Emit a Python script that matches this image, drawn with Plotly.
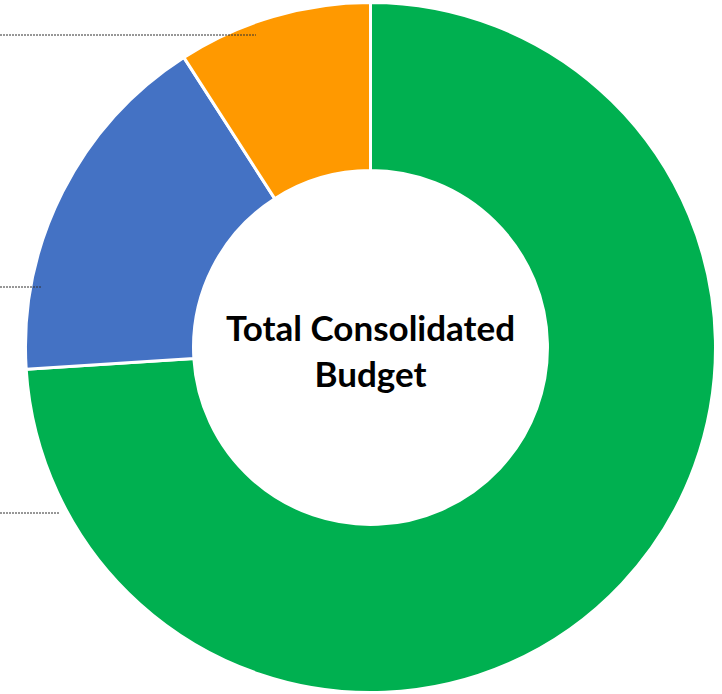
import plotly.graph_objects as go

# Data
categories = ["Green segment", "Blue segment", "Orange segment"]
values = [74.0, 16.9, 9.1]
colors = ["#00B050", "#4472C4", "#FF9900"]
center_title = "Total Consolidated<br>Budget"

# Leader line stubs (label lines cut off on the left edge), in pixels
leader_y = [35, 287, 513]
leader_x_end = [256, 42, 60]

W, H = 722, 694

fig = go.Figure(go.Pie(
    labels=categories,
    values=values,
    hole=0.513,
    sort=False,
    direction="clockwise",
    rotation=0,
    marker=dict(colors=colors, line=dict(color="white", width=3)),
    textinfo="none",
    hoverinfo="label+percent",
    showlegend=False,
    domain=dict(x=[25.5 / W, 715.5 / W], y=[1.5 / H, 691.5 / H]),
))

fig.add_annotation(
    x=370.5 / W, y=1 - 350 / H, xref="paper", yref="paper",
    text="<b>" + center_title + "</b>", showarrow=False,
    font=dict(family="Lato", size=35, color="black"),
    align="center", xanchor="center", yanchor="middle",
)

for yy, xe in zip(leader_y, leader_x_end):
    fig.add_shape(
        type="line", xref="paper", yref="paper",
        x0=0, x1=xe / W, y0=1 - yy / H, y1=1 - yy / H,
        line=dict(color="#303030", width=1, dash="2px,1px"),
    )

fig.update_layout(
    width=W, height=H,
    margin=dict(l=0, r=0, t=0, b=0),
    paper_bgcolor="white", plot_bgcolor="white",
)

fig.write_html("out.html")
